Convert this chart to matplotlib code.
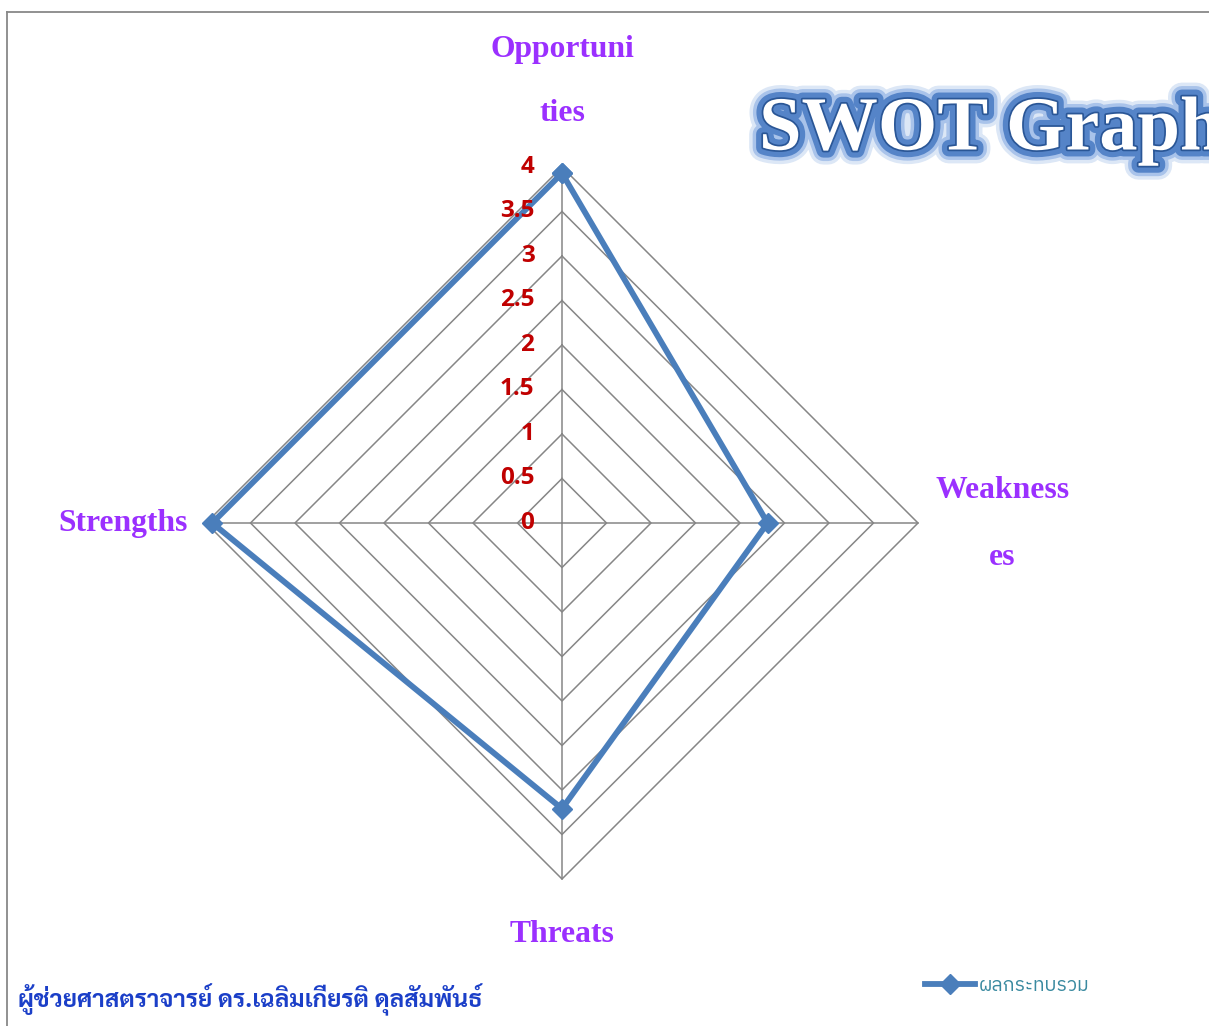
import numpy as np
import matplotlib
matplotlib.use("Agg")
import matplotlib.pyplot as plt
import matplotlib.patheffects as pe
from matplotlib.lines import Line2D

# ข้อมูล SWOT
categories = ["Opportunities", "Weaknesses", "Threats", "Strengths"]
axis_labels = [["Opportuni", "ties"], ["Weakness", "es"], ["Threats"], ["Strengths"]]
values = [3.93, 2.31, 3.21, 3.93]
ticks = [0, 0.5, 1, 1.5, 2, 2.5, 3, 3.5, 4]
tick_labels = ["0", "0.5", "1", "1.5", "2", "2.5", "3", "3.5", "4"]
series_name = "ผลกระทบรวม"
author = "ผู้ช่วยศาสตราจารย์ ดร.เฉลิมเกียรติ ดุลสัมพันธ์"
title = "SWOT Graph"

W, H = 1209, 1026
fig = plt.figure(figsize=(W / 100, H / 100), dpi=100)

# แกนแบบ cartesian, จุดศูนย์กลางที่ (562, 523) และ 1 หน่วย = 89 px
cx, cy, scale = 562, 523, 89
lim = 5
ax = fig.add_axes([(cx - lim * scale) / W, (H - cy - lim * scale) / H,
                   2 * lim * scale / W, 2 * lim * scale / H])
ax.set_xlim(-lim, lim)
ax.set_ylim(-lim, lim)
ax.axis("off")

angles = np.pi / 2 - np.arange(len(categories)) * np.pi / 2
ca = np.append(np.cos(angles), np.cos(angles[0]))
sa = np.append(np.sin(angles), np.sin(angles[0]))

grid_col = "#868686"
for t in ticks[1:]:
    ax.plot(t * ca, t * sa, color=grid_col, lw=1.1, zorder=1)
for a in angles:
    ax.plot([0, ticks[-1] * np.cos(a)], [0, ticks[-1] * np.sin(a)], color=grid_col, lw=1.1, zorder=1)

for t, lab in zip(ticks, tick_labels):
    ax.text(-0.31, t, lab, ha="right", va="center", color="#C00000",
            fontsize=17.5, fontweight="bold", family=["Open Sans", "DejaVu Sans"], zorder=3)

v = np.append(values, values[0])
line, = ax.plot(v * ca, v * sa, color="#4A7EBB", lw=4.2, marker="D", markersize=10,
                markeredgecolor="#4A7EBB", markerfacecolor="#4A7EBB", zorder=2,
                solid_joinstyle="miter", label=series_name)

# ป้ายชื่อแกน
label_font = dict(color="#9B30FF", fontsize=22.8, fontweight="bold",
                  family=["Liberation Serif", "DejaVu Serif"], ha="center", va="center")
label_pos = [[(0, 5.32), (0, 4.6)], [(4.95, 0.37), (4.95, -0.39)], [(0, -4.62)], [(-4.93, 0)]]
for parts, pos in zip(axis_labels, label_pos):
    for txt, (x, y) in zip(parts, pos):
        ax.text(x, y, txt, **label_font)

# ชื่อกราฟ (ถูกตัดที่ขอบขวาเหมือนต้นฉบับ)
fig.text(759 / W, 1 - 131 / H, title, fontsize=55, fontweight="bold",
         family=["Liberation Serif", "DejaVu Serif"], color="white", ha="left", va="center",
         path_effects=[pe.Stroke(linewidth=20, foreground="#DCE7F6"),
                       pe.Stroke(linewidth=15, foreground="#A9C3EA"),
                       pe.Stroke(linewidth=10, foreground="#5584C8"),
                       pe.Stroke(linewidth=2.5, foreground="#2A5696"),
                       pe.Normal()])

# ชื่อผู้จัดทำ
fig.text(18 / W, 1 - 1000 / H, author, fontsize=17.6, fontweight="bold", color="#1B3FC8",
         family=["Sarabun", "DejaVu Sans"], ha="left", va="center")

# คำอธิบาย
leg = fig.legend(handles=[line], loc="center left", bbox_to_anchor=(915 / W, 1 - 986 / H),
                 frameon=False, handlelength=2.6, handletextpad=0.2, borderpad=0,
                 prop={"family": ["IBM Plex Sans Thai", "Kanit", "DejaVu Sans"], "size": 14})
for t in leg.get_texts():
    t.set_color("#3A8AA0")

# กรอบ
fig.add_artist(Line2D([7 / W, 1.01], [1 - 12 / H, 1 - 12 / H], color="#888888", lw=1.3))
fig.add_artist(Line2D([7 / W, 7 / W], [1 - 12 / H, -0.01], color="#888888", lw=1.3))

fig.savefig("out.png", dpi=100)
